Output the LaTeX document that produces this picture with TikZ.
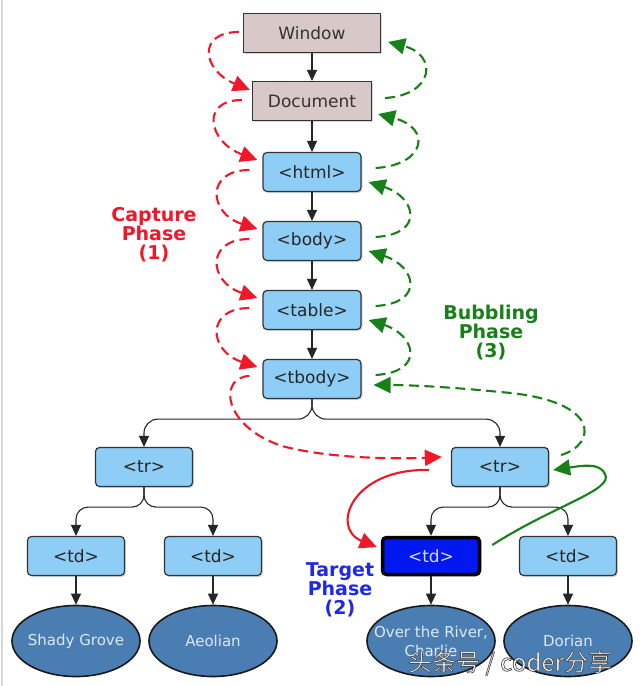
\documentclass[tikz,border=0pt]{standalone}
\usepackage{fontspec}
\setmainfont{DejaVu Sans}
\newfontfamily\cjkfont{Noto Sans CJK SC}
\usetikzlibrary{arrows.meta,shadows,calc,shapes.geometric}
\definecolor{pinkbox}{RGB}{216,200,200}
\definecolor{bluebox}{RGB}{142,206,246}
\definecolor{ellfill}{RGB}{74,126,178}
\definecolor{targetblue}{RGB}{0,24,240}
\definecolor{capred}{RGB}{240,24,40}
\definecolor{bubgreen}{RGB}{24,128,24}
\definecolor{tgtlabel}{RGB}{30,40,230}
\definecolor{elltext}{RGB}{220,232,246}
\tikzset{
  box/.style={draw=black!80, line width=1.2pt, minimum height=39pt, inner sep=0pt,
    font=\fontsize{17}{19}\selectfont,
    drop shadow={shadow xshift=1.5pt,shadow yshift=-1.5pt,opacity=0.3}},
  winbox/.style={box, fill=pinkbox, text=black!80},
  elbox/.style={box, fill=bluebox, rounded corners=4pt, minimum width=98pt, text=black!85},
  tgtbox/.style={box, fill=targetblue, rounded corners=4pt, minimum width=97pt, minimum height=37pt, line width=3.5pt, draw=black, text=white!85!blue},
  leaf/.style={ellipse, draw=black!90, line width=1.6pt, fill=ellfill, minimum width=128pt,
    minimum height=71pt, text=elltext, font=\fontsize{15}{19}\selectfont,
    inner xsep=-40pt, inner ysep=-25pt, align=center},
  tree/.style={draw=black!85, line width=1.1pt, -{Triangle[width=10pt,length=11pt]}},
  capdash/.style={draw=capred, line width=2.1pt, dash pattern=on 10pt off 5.5pt, -{Triangle[width=16pt,length=17pt]}},
  capsolid/.style={draw=capred, line width=2.1pt, -{Triangle[width=16pt,length=17pt]}},
  bubdash/.style={draw=bubgreen, line width=2.1pt, dash pattern=on 10pt off 5.5pt, -{Triangle[width=16pt,length=17pt]}},
  bubsolid/.style={draw=bubgreen, line width=2.1pt, -{Triangle[width=16pt,length=17pt]}},
  phase/.style={font=\bfseries\fontsize{19}{19}\selectfont, align=center}
}
\begin{document}
\begin{tikzpicture}[x=1pt,y=-1pt]
\useasboundingbox (0,0) rectangle (640,686);
\fill[white] (0,0) rectangle (640,686);
\draw[black!15, line width=1.2pt] (2,0) -- (2,686);

% nodes
\node[winbox, minimum width=137pt] (win) at (312,33) {Window};
\node[winbox, minimum width=119pt] (doc) at (312,101) {Document};
\node[elbox] (html) at (312,172) {<html>};
\node[elbox] (body) at (312,241) {<body>};
\node[elbox] (table) at (312,310) {<table>};
\node[elbox] (tbody) at (312,379) {<tbody>};
\node[elbox, minimum width=97pt] (trL) at (144,467) {<tr>};
\node[elbox, minimum width=97pt] (trR) at (500,467) {<tr>};
\node[elbox, minimum width=97pt] (tdA) at (76,556) {<td>};
\node[elbox, minimum width=97pt] (tdB) at (213,556) {<td>};
\node[tgtbox] (tdT) at (431,556) {<td>};
\node[elbox, minimum width=97pt] (tdD) at (568,556) {<td>};
\node[leaf] (lA) at (76,641) {Shady Grove};
\node[leaf] (lB) at (213,641) {Aeolian};
\node[leaf] (lT) at (431,641) {Over the River,\\Charlie};
\node[leaf] (lD) at (568,641) {Dorian};

% tree connectors
\draw[tree] (win) -- (doc);
\draw[tree] (doc) -- (html);
\draw[tree] (html) -- (body);
\draw[tree] (body) -- (table);
\draw[tree] (table) -- (tbody);
\draw[tree, rounded corners=14pt] (tbody.south) -- ++(0,20) -| (trL.north);
\draw[tree, rounded corners=14pt] (tbody.south) -- ++(0,20) -| (trR.north);
\draw[tree, rounded corners=12pt] (trL.south) -- ++(0,20) -| (tdA.north);
\draw[tree, rounded corners=12pt] (trL.south) -- ++(0,20) -| (tdB.north);
\draw[tree, rounded corners=12pt] (trR.south) -- ++(0,20) -| (tdT.north);
\draw[tree, rounded corners=12pt] (trR.south) -- ++(0,20) -| (tdD.north);
\draw[tree] (tdA) -- (lA);
\draw[tree] (tdB) -- (lB);
\draw[tree] (tdT) -- (lT);
\draw[tree] (tdD) -- (lD);

% capture phase (red dashed)
\draw[capdash] ($(win.west)+(-4,-1)$) .. controls ($(win.west)+(-46,-1)$) and ($(doc.west)+(-50,-31)$) .. ($(doc.west)+(-2,-11)$);
\draw[capdash] ($(doc.west)+(-10,-1)$) .. controls ($(doc.west)+(-52,-1)$) and ($(html.west)+(-54,-30)$) .. ($(html.west)+(-5,-12)$);
\draw[capdash] ($(html.west)+(-13,-2)$) .. controls ($(html.west)+(-57,-2)$) and ($(body.west)+(-54,-28)$) .. ($(body.west)+(-5,-12)$);
\draw[capdash] ($(body.west)+(-13,-2)$) .. controls ($(body.west)+(-57,-2)$) and ($(table.west)+(-54,-28)$) .. ($(table.west)+(-5,-12)$);
\draw[capdash] ($(table.west)+(-13,-2)$) .. controls ($(table.west)+(-57,-2)$) and ($(tbody.west)+(-54,-28)$) .. ($(tbody.west)+(-5,-12)$);
\coordinate (capmid) at (282,446);
\draw[capdash] ($(tbody.west)+(-13,-3)$) .. controls ($(tbody.west)+(-44,-2)$) and (222,426) .. (capmid)
  .. controls (330,459) and (400,459) .. ($(trR.west)+(-9,-10)$);

% bubbling phase (green dashed)
\draw[bubdash] ($(doc.east)+(13,-3)$) .. controls ($(doc.east)+(62,-6)$) and ($(win.east)+(57,22)$) .. ($(win.east)+(7,9)$);
\draw[bubdash] ($(html.east)+(14,-4)$) .. controls ($(html.east)+(64,-7)$) and ($(doc.east)+(60,27)$) .. ($(doc.east)+(6,13)$);
\draw[bubdash] ($(body.east)+(14,-4)$) .. controls ($(body.east)+(64,-7)$) and ($(html.east)+(54,25)$) .. ($(html.east)+(7,10)$);
\draw[bubdash] ($(table.east)+(14,-4)$) .. controls ($(table.east)+(64,-7)$) and ($(body.east)+(54,25)$) .. ($(body.east)+(7,10)$);
\draw[bubdash] ($(tbody.east)+(14,-4)$) .. controls ($(tbody.east)+(64,-7)$) and ($(table.east)+(54,25)$) .. ($(table.east)+(7,10)$);
\coordinate (bubmid) at (500,392);
\draw[bubdash] ($(trR.east)+(12,-12)$) .. controls (596,445) and (604,400) .. (bubmid)
  .. controls (450,387) and (410,385) .. ($(tbody.east)+(12,6)$);

% target phase (solid)
\draw[capsolid] ($(trR.west)+(-22,3)$) .. controls (352,468) and (330,528) .. ($(tdT.west)+(-4,-9)$);
\coordinate (loop) at (605,474);
\draw[bubsolid] ($(tdT.east)+(11,-11)$) .. controls (555,505) and (614,490) .. (loop)
  .. controls (600,462) and (580,466) .. ($(trR.east)+(4,3)$);

% labels
\node[phase, text=capred] (caplbl) at (154,235) {Capture\\Phase\\(1)};
\node[phase, text=bubgreen] (bublbl) at (491,333) {Bubbling\\Phase\\(3)};
\node[phase, text=tgtlabel] (tgtlbl) at (340,590) {Target\\Phase\\(2)};

% watermark (white text, grey outline)
\node[font=\cjkfont\fontsize{24}{24}\selectfont, text=white] (wm) at (510,663)
  {\special{pdf:literal direct 0.3 G 0.7 w 2 Tr}头条号 / coder分享\special{pdf:literal direct 0 Tr}};
\end{tikzpicture}
\end{document}
